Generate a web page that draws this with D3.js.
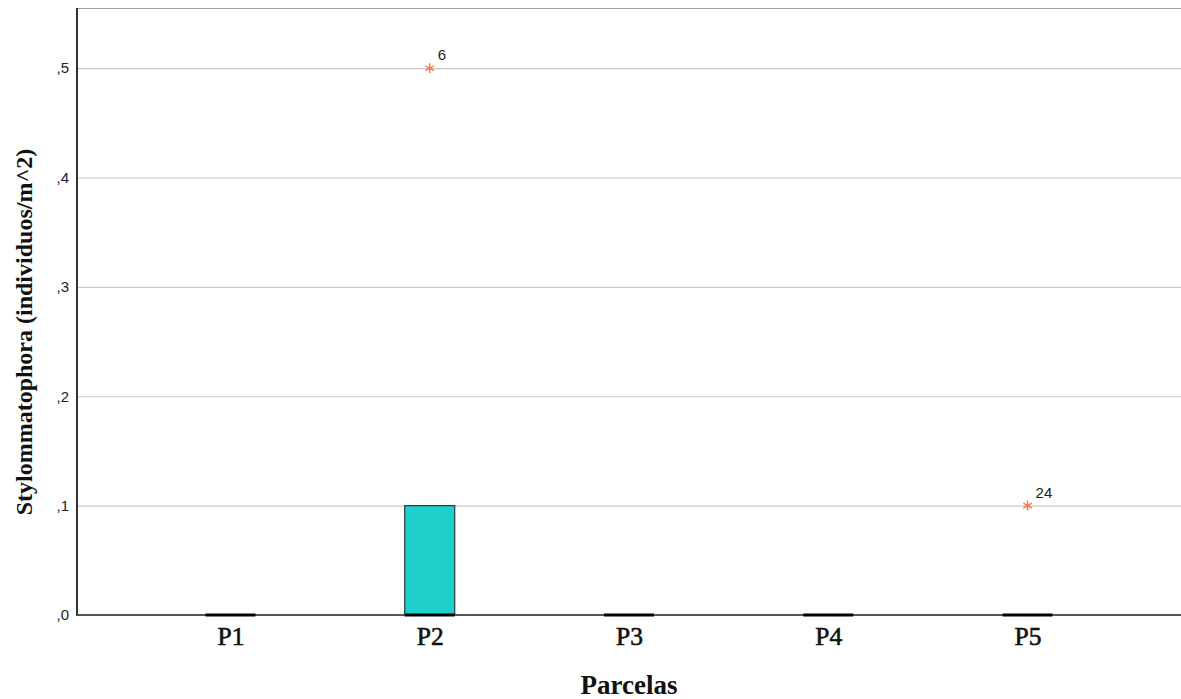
<!DOCTYPE html>
<html><head><meta charset="utf-8">
<script src="https://cdn.jsdelivr.net/npm/d3@7"></script>
<style>body{margin:0;background:#fff;}svg{display:block;}</style>
</head><body>
<svg id="c" width="1181" height="699"></svg>
<script>
const categories = ["P1","P2","P3","P4","P5"];
const q1 = [0, 0, 0, 0, 0];
const median = [0, 0, 0, 0, 0];
const q3 = [0, 0.1, 0, 0, 0];
const whiskerLow = [0, 0, 0, 0, 0];
const whiskerHigh = [0, 0.1, 0, 0, 0];
const outlierCategory = ["P2", "P5"];
const outlierValue = [0.5, 0.1];
const outlierCase = ["6", "24"];
const yTicks = [0, 0.1, 0.2, 0.3, 0.4, 0.5];
const yTickLabels = [",0", ",1", ",2", ",3", ",4", ",5"];

const svg = d3.select("#c");
const L = 77, R = 1181, T = 8, B = 615;
const x = d3.scalePoint().domain(categories).range([L, R]).padding(0.77);
const y = d3.scaleLinear().domain([0, 0.555]).range([B, T]);
const boxW = 50;

// gridlines
svg.append("g").selectAll("line").data(yTicks.filter(d => d > 0)).join("line")
  .attr("x1", L).attr("x2", R).attr("y1", d => y(d) + 0.5).attr("y2", d => y(d) + 0.5)
  .attr("stroke", "#c8c8c8").attr("stroke-width", 1.2);
// top border
svg.append("line").attr("x1", L).attr("x2", R).attr("y1", T + 0.5).attr("y2", T + 0.5)
  .attr("stroke", "#a0a0a0").attr("stroke-width", 1);

// y axis
const yAxis = d3.axisLeft(y).tickValues(yTicks).tickFormat((d, i) => yTickLabels[i]).tickSize(0).tickPadding(8);
const gy = svg.append("g").attr("transform", `translate(${L},0)`).call(yAxis);
gy.select(".domain").remove();
gy.selectAll("text").attr("font-family", "Liberation Sans, Arial, sans-serif").attr("font-size", 15).attr("fill", "#222");
svg.append("line").attr("x1", L).attr("x2", L).attr("y1", T).attr("y2", B + 1)
  .attr("stroke", "#333").attr("stroke-width", 2);

// boxes
const boxes = categories.map((c, i) => ({c, q1: q1[i], med: median[i], q3: q3[i], lo: whiskerLow[i], hi: whiskerHigh[i]}));
const gb = svg.append("g");
boxes.forEach(b => {
  const cx = x(b.c);
  if (b.q3 > b.q1) {
    gb.append("rect").attr("x", cx - boxW / 2).attr("width", boxW)
      .attr("y", y(b.q3)).attr("height", y(b.q1) - y(b.q3))
      .attr("fill", "#1fcfcc").attr("stroke", "#2a3a3a").attr("stroke-width", 1.2);
  }
});

// x axis line
svg.append("line").attr("x1", L).attr("x2", R).attr("y1", B).attr("y2", B)
  .attr("stroke", "#555").attr("stroke-width", 2);

// medians (on top of axis line)
const gm = svg.append("g");
boxes.forEach(b => {
  const cx = x(b.c);
  gm.append("line").attr("x1", cx - boxW / 2).attr("x2", cx + boxW / 2)
    .attr("y1", y(b.med)).attr("y2", y(b.med)).attr("stroke", "#000").attr("stroke-width", 3);
});

// outliers
const star = d3.symbol().type(d3.symbolAsterisk).size(65);
outlierCategory.forEach((c, i) => {
  const cx = x(c), cy = y(outlierValue[i]);
  svg.append("path").attr("d", star()).attr("transform", `translate(${cx},${cy})`)
    .attr("stroke", "#f47b3b").attr("stroke-width", 1.4).attr("fill", "none");
  svg.append("text").attr("x", cx + 8).attr("y", cy - 8).text(outlierCase[i])
    .attr("font-family", "Liberation Sans, Arial, sans-serif").attr("font-size", 15).attr("fill", "#222");
});

// x axis labels
const xAxis = d3.axisBottom(x).tickSize(0).tickPadding(12);
const gx = svg.append("g").attr("transform", `translate(0,${B})`).call(xAxis);
gx.select(".domain").remove();
gx.selectAll("text").attr("font-family", "Liberation Serif, serif").attr("font-size", 25.5).attr("fill", "#111")
  .attr("stroke", "#111").attr("stroke-width", 0.6);

// titles
svg.append("text").attr("x", 629).attr("y", 694).attr("text-anchor", "middle")
  .attr("font-family", "Liberation Serif, serif").attr("font-weight", "bold").attr("font-size", 27).attr("fill", "#111")
  .text("Parcelas");
svg.append("text").attr("transform", `translate(32,332) rotate(-90)`).attr("text-anchor", "middle")
  .attr("font-family", "Liberation Serif, serif").attr("font-weight", "bold").attr("font-size", 24).attr("fill", "#111")
  .text("Stylommatophora (individuos/m^2)");
</script>
</body></html>
